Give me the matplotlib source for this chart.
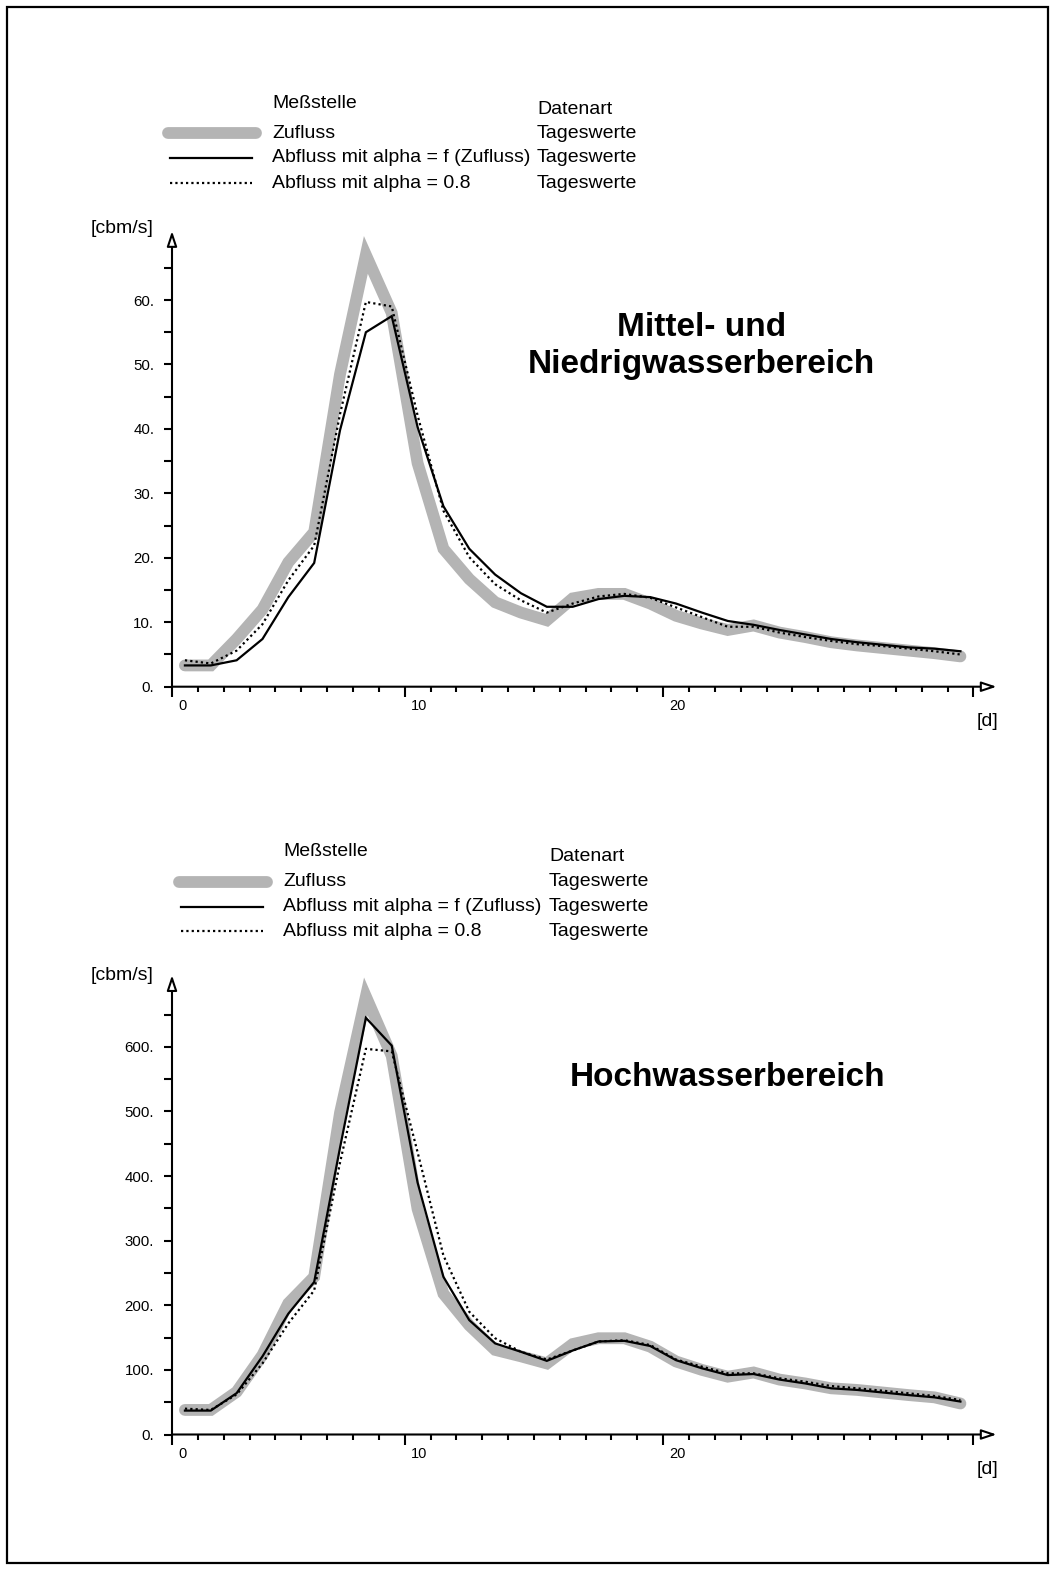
import numpy as np
import matplotlib
matplotlib.use("Agg")
from matplotlib import pyplot as plt
from matplotlib.lines import Line2D
from matplotlib.patches import Rectangle
from matplotlib.transforms import ScaledTranslation

plt.rcParams['font.family'] = ['Liberation Sans', 'DejaVu Sans']

W, H = 1055, 1571

# daily values, one per day of the month
days = np.arange(31) + 0.5

zufluss_mnw = [3.3, 3.3, 7.4, 12.0, 19.3, 24.0, 48.5, 67.0, 58.0, 34.7, 21.4, 16.7, 13.1,
               11.5, 10.3, 13.7, 14.4, 14.4, 12.9, 11.0, 9.8, 8.8, 9.5, 8.4, 7.7, 6.9,
               6.4, 6.0, 5.6, 5.2, 4.7]
abfluss_f_mnw = [3.3, 3.3, 4.1, 7.4, 13.9, 19.2, 39.8, 55.0, 57.5, 40.3, 28.0, 21.4, 17.4,
                 14.5, 12.4, 12.4, 13.6, 14.1, 13.9, 12.9, 11.5, 10.2, 9.6, 8.8, 8.1, 7.4,
                 6.9, 6.5, 6.1, 5.9, 5.5]
abfluss_08_mnw = [4.1, 3.6, 5.6, 9.7, 16.5, 21.9, 42.3, 59.7, 59.0, 42.1, 27.3, 20.1, 15.9,
                  13.4, 11.5, 12.9, 14.0, 14.4, 13.8, 12.3, 10.8, 9.3, 9.3, 8.4, 7.7, 7.1,
                  6.6, 6.3, 5.9, 5.5, 5.0]

zufluss_hw = [38, 38, 66, 123, 203, 244, 498, 678, 586, 349, 218, 169, 131, 121, 110, 140,
              149, 149, 136, 113, 100, 89.5, 96, 85, 79, 71.5, 69, 65, 61, 57.5, 48]
abfluss_f_hw = [37, 37, 64, 121, 187, 236, 444, 645, 602, 390, 244, 177, 141, 128, 114, 130,
                144, 145, 137, 115, 102.5, 92, 93.6, 85, 79, 71.5, 69, 65, 61, 57.5, 51]
abfluss_08_hw = [40, 38, 62, 110, 172, 223, 421, 597, 593, 437, 277, 190, 149, 128, 116, 130,
                 144, 146, 138.5, 116, 105, 94.7, 94.7, 87, 81.7, 75, 71.5, 67.8, 63.7, 59.6, 53.4]

x_tick_pos = [0, 9, 19, 31]
x_tick_labels = ['0', '10', '20', '']

legend_rows = ['Zufluss', 'Abfluss mit alpha = f (Zufluss)', 'Abfluss mit alpha = 0.8']
datenart = 'Tageswerte'

GRAY = '#b4b4b4'
styles = [
    dict(color=GRAY, lw=8.5, solid_capstyle='round', solid_joinstyle='miter'),
    dict(color='black', lw=1.6, solid_joinstyle='miter'),
    dict(color='black', lw=1.6, linestyle=(0, (1, 1.4))),
]


def fx(x):
    return x / W


def fy(y):
    return 1 - y / H


fig = plt.figure(figsize=(W / 100, H / 100), dpi=100)


def draw_legend(x0, x_line0, x_line1, x_art, y_head, y_art_head, y_rows):
    fig.text(fx(x0), fy(y_head), 'Meßstelle', fontsize=14, va='center')
    fig.text(fx(x_art), fy(y_art_head), 'Datenart', fontsize=14, va='center')
    for i, (label, st) in enumerate(zip(legend_rows, styles)):
        y = fy(y_rows[i])
        a, b = (x_line0 - 2, x_line1 + 4) if i == 0 else (x_line0, x_line1)
        fig.add_artist(Line2D([fx(a), fx(b)], [y, y], transform=fig.transFigure, **st))
        fig.text(fx(x0), y, label, fontsize=14, va='center')
        fig.text(fx(x_art), y, datenart, fontsize=14, va='center')


def draw_panel(rect_px, ymax, ytop_tip, ystep, series):
    left, top, right, bottom = rect_px
    ax = fig.add_axes([fx(left), fy(bottom), fx(right - left), (bottom - top) / H])
    for s in ax.spines.values():
        s.set_visible(False)
    ax.patch.set_visible(False)

    for vals, st in zip(series, styles):
        ax.plot(days, vals, clip_on=False, **st)

    ax.set_xticks(x_tick_pos)
    ax.set_xticklabels(x_tick_labels)
    ax.set_xticks(np.arange(0, 32), minor=True)
    ax.tick_params(axis='x', which='major', length=7.2, width=1.5, pad=1.5, labelsize=10.5,
                   direction='out')
    ax.tick_params(axis='x', which='minor', length=3.6, width=1.5, direction='out')
    shift = ScaledTranslation(0.06, 0, fig.dpi_scale_trans)
    for lab in ax.get_xticklabels():
        lab.set_horizontalalignment('left')
        lab.set_transform(lab.get_transform() + shift)

    yt = np.arange(0, ystep * 6.5 + 1, ystep / 2)
    ax.set_yticks(yt)
    ax.set_yticklabels(['%d.' % v if (i % 2 == 0 and i <= 12) else '' for i, v in enumerate(yt)])
    ax.tick_params(axis='y', length=5.8, width=1.5, pad=7, labelsize=10.8, direction='out')

    ax.set_xlim(0, 32)
    ax.set_ylim(0, ymax)

    # axes with open arrow heads
    arrow = dict(arrowstyle='-|>,head_length=0.9,head_width=0.3', fc='white',
                 ec='black', lw=1.5, shrinkA=0, shrinkB=0)
    ax.annotate('', xy=(31.9, 0), xytext=(0, 0), arrowprops=arrow, annotation_clip=False)
    ax.annotate('', xy=(0, ytop_tip), xytext=(0, 0), arrowprops=arrow, annotation_clip=False)

    fig.text(fx(154), fy(top + 3), '[cbm/s]', fontsize=14, ha='right', va='center')
    fig.text(fx(987), fy(bottom + 35), '[d]', fontsize=14, ha='center', va='center')
    return ax


# Mittel- und Niedrigwasserbereich
draw_legend(272, 170, 252, 537, 104, 109, [133, 158, 183])
draw_panel((172, 225.9, 999.2, 686.7), 71.5, 70.7, 10,
           [zufluss_mnw, abfluss_f_mnw, abfluss_08_mnw])
fig.text(fx(702), fy(327), 'Mittel- und', fontsize=24, fontweight='bold', ha='center', va='center')
fig.text(fx(701), fy(365), 'Niedrigwasserbereich', fontsize=24, fontweight='bold',
         ha='center', va='center')

# Hochwasserbereich
draw_legend(283, 181, 263, 549, 851, 856, [882, 907, 931])
draw_panel((172, 972.6, 999.2, 1434.5), 715, 711, 100,
           [zufluss_hw, abfluss_f_hw, abfluss_08_hw])
fig.text(fx(728), fy(1077), 'Hochwasserbereich', fontsize=24, fontweight='bold',
         ha='center', va='center')

# frame round the sheet
fig.add_artist(Rectangle((fx(7), fy(1563)), fx(1048 - 7), (1563 - 7) / H,
                         transform=fig.transFigure, fill=False, ec='black', lw=1.6))

fig.savefig('out.png', dpi=100)
